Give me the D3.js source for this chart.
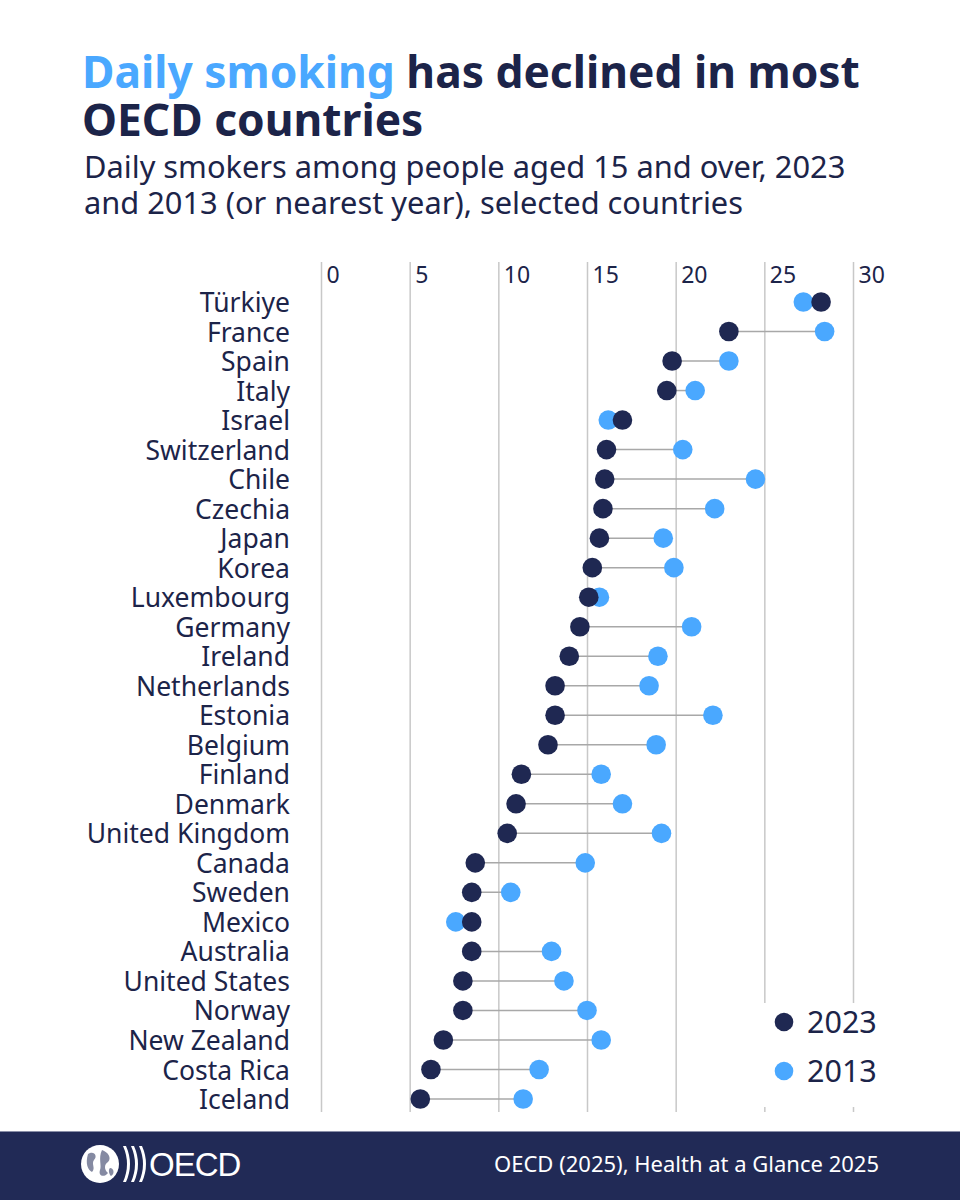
<!DOCTYPE html>
<html>
<head>
<meta charset="utf-8">
<script src="https://cdn.jsdelivr.net/npm/d3@7"></script>
<style>
  body { margin: 0; background: #fff; }
  svg { display: block; font-family: "Noto Sans", sans-serif; }
  .axis .domain { display: none; }
</style>
</head>
<body>
<div id="chart"></div>
<script>
// data (% daily smokers, age 15+)
const countries = ["Türkiye", "France", "Spain", "Italy", "Israel", "Switzerland", "Chile", "Czechia",
    "Japan", "Korea", "Luxembourg", "Germany", "Ireland", "Netherlands", "Estonia", "Belgium", "Finland",
    "Denmark", "United Kingdom", "Canada", "Sweden", "Mexico", "Australia", "United States", "Norway",
    "New Zealand", "Costa Rica", "Iceland"];
const val2023 = [28.2, 23.0, 19.8, 19.5, 17.0, 16.1, 16.0, 15.9, 15.7, 15.3, 15.1, 14.6, 14.0, 13.2, 13.2,
    12.8, 11.3, 11.0, 10.5, 8.7, 8.5, 8.5, 8.5, 8.0, 8.0, 6.9, 6.2, 5.6];
const val2013 = [27.2, 28.4, 23.0, 21.1, 16.2, 20.4, 24.5, 22.2, 19.3, 19.9, 15.7, 20.9, 19.0, 18.5, 22.1,
    18.9, 15.8, 17.0, 19.2, 14.9, 10.7, 7.6, 13.0, 13.7, 15.0, 15.8, 12.3, 11.4];
const xTicks = [0, 5, 10, 15, 20, 25, 30];
const years = ["2023", "2013"];

const width = 960;
const height = 1200;
const navy = "#1c2449";
const dark = "#1f2852";
const blue = "#4aa8ff";

const svg = d3.select("#chart")
    .append("svg")
    .attr("width", width)
    .attr("height", height)
    .attr("viewBox", [0, 0, width, height]);

//Title
const title = svg.append("text")
    .attr("x", 82)
    .attr("y", 88)
    .attr("font-size", "44.3px")
    .attr("font-weight", "bold")
    .attr("fill", navy);
title.append("tspan").attr("fill", blue).text("Daily smoking");
title.append("tspan").text(" has declined in most");
svg.append("text")
    .attr("x", 82)
    .attr("y", 136)
    .attr("font-size", "44.3px")
    .attr("font-weight", "bold")
    .attr("fill", navy)
    .text("OECD countries");

//Subtitle
["Daily smokers among people aged 15 and over, 2023", "and 2013 (or nearest year), selected countries"]
    .forEach((t, i) => {
        svg.append("text")
            .attr("x", 84)
            .attr("y", 178 + i * 36)
            .attr("font-size", "30.8px")
            .attr("fill", navy)
            .text(t);
    });

//Scales
const xScale = d3.scaleLinear()
    .domain([0, 30])
    .range([321, 853]);
const yScale = d3.scalePoint()
    .domain(countries)
    .range([302, 1099]);

const gridTop = 262;
const gridBottom = 1112;

//X axis (gridlines + labels)
const xAxis = d3.axisTop(xScale)
    .tickValues(xTicks)
    .tickSize(-(gridBottom - gridTop))
    .tickPadding(0);
const gx = svg.append("g")
    .attr("class", "axis")
    .attr("transform", `translate(0, ${gridTop})`)
    .call(xAxis);
gx.selectAll(".tick line")
    .attr("stroke", "#c8c8c8")
    .attr("stroke-width", 1.5);
gx.selectAll(".tick text")
    .attr("x", 5)
    .attr("y", 21)
    .attr("dy", 0)
    .attr("text-anchor", "start")
    .attr("font-size", "23px")
    .attr("font-family", "Noto Sans, sans-serif")
    .attr("fill", navy);

//Y axis (country names)
const yAxis = d3.axisLeft(yScale)
    .tickSize(0)
    .tickPadding(0);
const gy = svg.append("g")
    .attr("class", "axis")
    .attr("transform", "translate(290, 0)")
    .call(yAxis);
gy.selectAll(".tick text")
    .attr("font-size", "26.5px")
    .attr("font-family", "Noto Sans, sans-serif")
    .attr("fill", navy)
    .attr("dy", "0.36em");

//Connectors
countries.forEach((c, i) => {
    svg.append("line")
        .attr("x1", xScale(val2023[i]))
        .attr("x2", xScale(val2013[i]))
        .attr("y1", yScale(c))
        .attr("y2", yScale(c))
        .attr("stroke", "#a8a8a8")
        .attr("stroke-width", 1.5);
});

//Dots: 2013 first, 2023 on top
svg.selectAll(".dot2013")
    .data(countries)
    .join("circle")
    .attr("class", "dot2013")
    .attr("cx", (d, i) => xScale(val2013[i]))
    .attr("cy", d => yScale(d))
    .attr("r", 9.8)
    .attr("fill", blue);
svg.selectAll(".dot2023")
    .data(countries)
    .join("circle")
    .attr("class", "dot2023")
    .attr("cx", (d, i) => xScale(val2023[i]))
    .attr("cy", d => yScale(d))
    .attr("r", 9.8)
    .attr("fill", dark);

//Legend
svg.append("rect")
    .attr("x", 745)
    .attr("y", 1003)
    .attr("width", 160)
    .attr("height", 104)
    .attr("fill", "white");
years.forEach((y, i) => {
    svg.append("circle")
        .attr("cx", 784)
        .attr("cy", 1022 + i * 49)
        .attr("r", 9.3)
        .attr("fill", i === 0 ? dark : blue);
    svg.append("text")
        .attr("x", 807)
        .attr("y", 1033 + i * 49)
        .attr("font-size", "30.5px")
        .attr("fill", navy)
        .text(y);
});

//Footer
svg.append("rect")
    .attr("x", 0)
    .attr("y", 1131)
    .attr("width", width)
    .attr("height", height - 1131)
    .attr("fill", "#212a56");
svg.append("line")
    .attr("x1", 0)
    .attr("x2", width)
    .attr("y1", 1131.5)
    .attr("y2", 1131.5)
    .attr("stroke", "#8a8fa8")
    .attr("stroke-width", 1);

// logo: globe + chevrons + OECD
const logo = svg.append("g").attr("transform", "translate(100, 1164)");
logo.append("circle").attr("r", 19).attr("fill", "white");
logo.append("path")
    .attr("d", "M-12,-10 C-6,-14 -2,-8 -6,-4 C-9,0 -4,4 -8,8 C-12,6 -15,0 -12,-10 Z M2,-14 C8,-12 12,-6 8,-2 C4,0 4,6 8,9 C4,14 -2,12 0,6 C2,2 -2,-6 2,-14 Z M10,4 C14,4 15,10 11,12 C9,10 8,6 10,4 Z")
    .attr("fill", "#212a56")
    .attr("opacity", 0.55);
[0, 8, 16].forEach(dx => {
    logo.append("path")
        .attr("d", `M${23 + dx},-18 Q${31 + dx},0 ${23 + dx},18 L${26 + dx},18 Q${34 + dx},0 ${26 + dx},-18 Z`)
        .attr("fill", "white");
});
svg.append("text")
    .attr("x", 149)
    .attr("y", 1176)
    .attr("font-size", "33px")
    .attr("font-family", "Liberation Sans Narrow, Liberation Sans, sans-serif")
    .attr("fill", "white")
    .attr("letter-spacing", "-1px")
    .text("OECD");

svg.append("text")
    .attr("x", 879)
    .attr("y", 1172)
    .attr("text-anchor", "end")
    .attr("font-size", "22px")
    .attr("fill", "white")
    .text("OECD (2025), Health at a Glance 2025");
</script>
</body>
</html>
